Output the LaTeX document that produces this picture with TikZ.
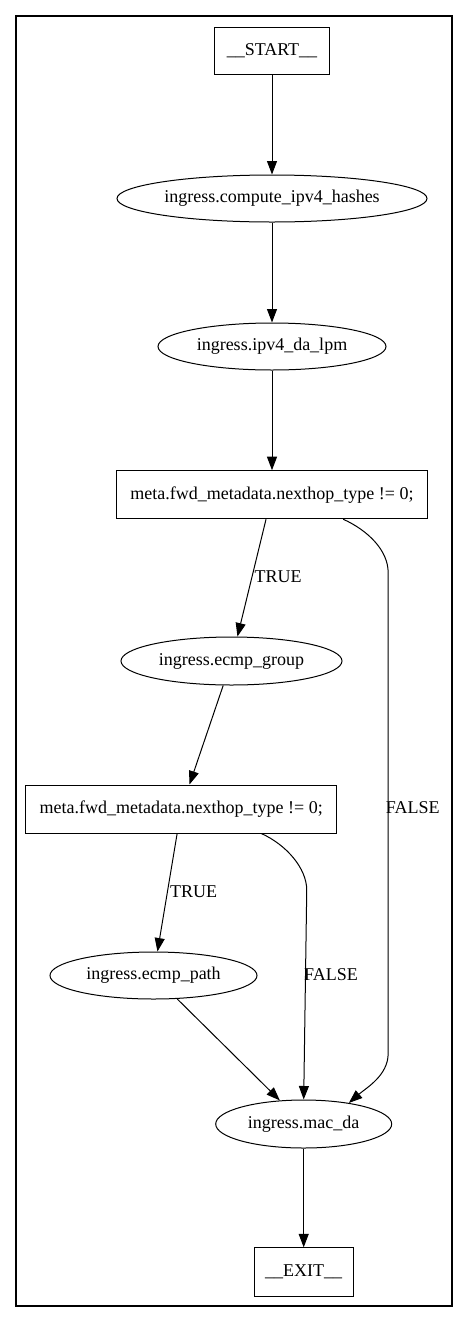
\documentclass[tikz,border=0pt]{standalone}
\usepackage{fontspec}
\setmainfont{Liberation Serif}
\usetikzlibrary{shapes.geometric,arrows.meta}
\begin{document}
\begin{tikzpicture}[x=1pt,y=-1pt,
  every node/.style={font=\fontsize{18}{21}\selectfont, inner sep=0pt},
  boxnode/.style={draw, line width=1pt, rectangle},
  ellnode/.style={draw, line width=1pt, ellipse},
  lbl/.style={anchor=west},
  arr/.style={draw, line width=1pt, -{Triangle[length=13.5pt,width=10pt]}},
  frame/.style={draw, line width=2pt}
]
\useasboundingbox (0,0) rectangle (468,1323);
\draw[frame] (16,15.5) rectangle (452,1305.8);

\node[boxnode, minimum width=115pt, minimum height=47pt] (start) at (272,50.5) {\_\_START\_\_};
\node[ellnode, minimum width=310pt, minimum height=47pt] (hash) at (272,198.5) {ingress.compute\_ipv4\_hashes};
\node[ellnode, minimum width=228pt, minimum height=47pt] (lpm) at (272,346.5) {ingress.ipv4\_da\_lpm};
\node[boxnode, minimum width=311pt, minimum height=48pt] (cond1) at (272,494.7) {meta.fwd\_metadata.nexthop\_type != 0;};
\node[ellnode, minimum width=221pt, minimum height=48pt] (group) at (231.5,661) {ingress.ecmp\_group};
\node[boxnode, minimum width=311pt, minimum height=48pt] (cond2) at (181.2,809) {meta.fwd\_metadata.nexthop\_type != 0;};
\node[ellnode, minimum width=207pt, minimum height=47pt] (path) at (153.5,975.5) {ingress.ecmp\_path};
\node[ellnode, minimum width=176pt, minimum height=48pt] (mac) at (303.7,1124) {ingress.mac\_da};
\node[boxnode, minimum width=99pt, minimum height=48.3pt] (exit) at (303.7,1272) {\_\_EXIT\_\_};

\node[lbl] (t1) at (254.5,577) {TRUE};
\node[lbl] (f1) at (385.7,808) {FALSE};
\node[lbl] (t2) at (170,891.7) {TRUE};
\node[lbl] (f2) at (303.9,975) {FALSE};

\draw[arr] (start) -- (hash);
\draw[arr] (hash) -- (lpm);
\draw[arr] (lpm) -- (cond1);
\draw[arr] (cond1) -- (group);
\draw[arr] (group) -- (cond2);
\draw[arr] (cond2) -- (path);
\draw[arr] (path) -- (mac);
\draw[arr] (mac) -- (exit);

\draw[arr] (cond1.-19.3) .. controls +(25,11.3) and +(0,-22) .. ++(45,53.3)
  -- ++(0,481) .. controls +(0,22) and +(17.3,-15) .. (mac.25.7);
\draw[arr] (cond2.-17.3) .. controls +(25,11.3) and +(0,-22) .. ++(45.4,56.7)
  -- (mac.north);
\end{tikzpicture}
\end{document}
